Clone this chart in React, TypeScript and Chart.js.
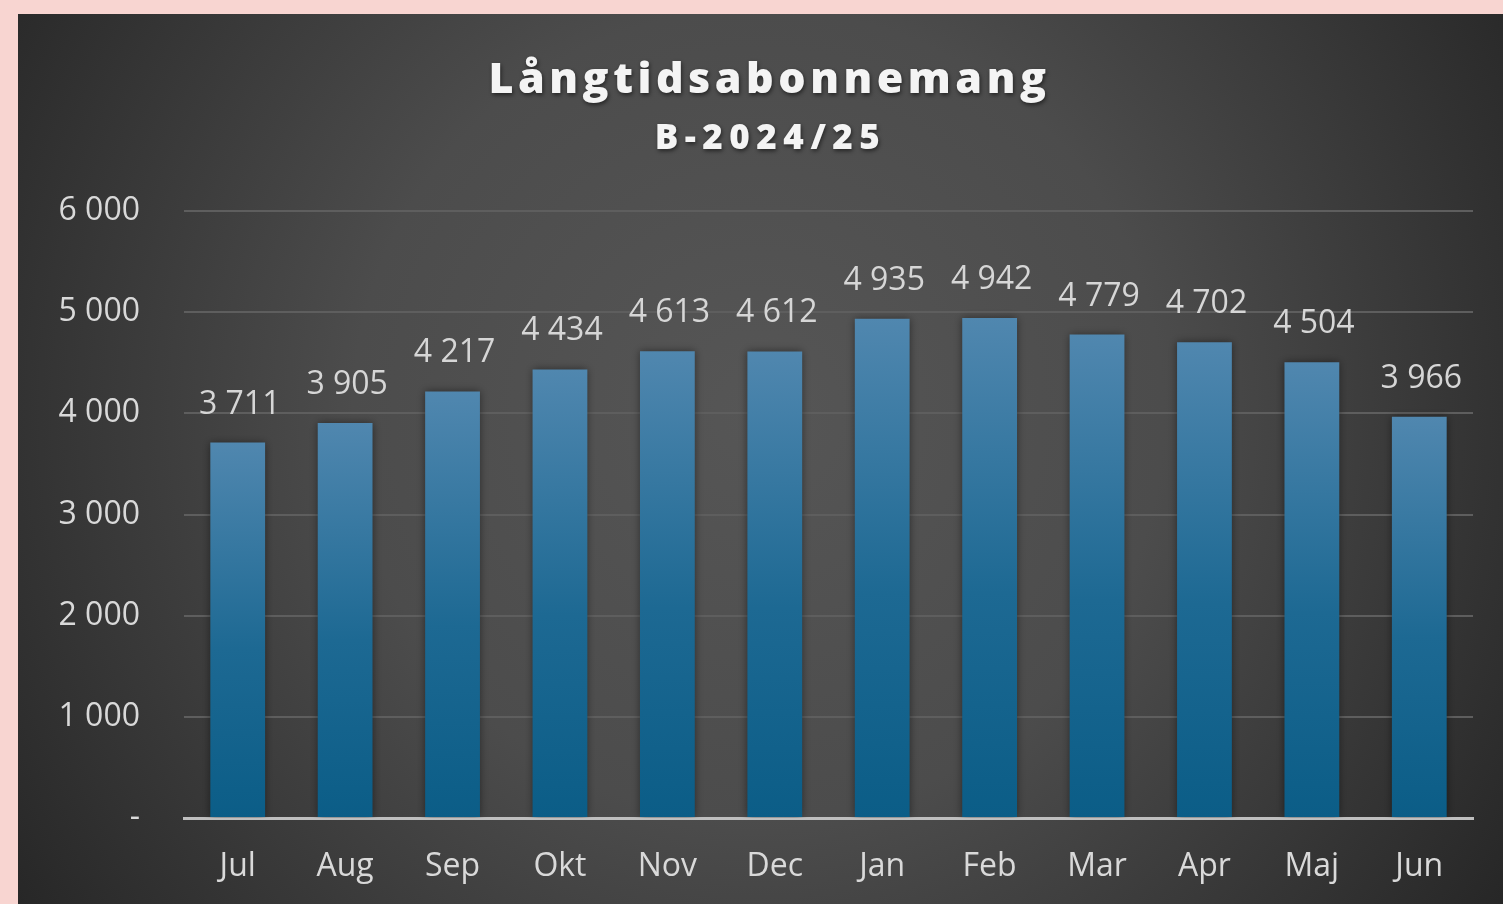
import React, { useEffect, useRef } from "react";
import { Chart, registerables } from "chart.js";

Chart.register(...registerables);

const TITLE = "Långtidsabonnemang";
const SUBTITLE = "B-2024/25";
const months = ["Jul", "Aug", "Sep", "Okt", "Nov", "Dec", "Jan", "Feb", "Mar", "Apr", "Maj", "Jun"];
const subscriptions = [3711, 3905, 4217, 4434, 4613, 4612, 4935, 4942, 4779, 4702, 4504, 3966];
const yMin = 0;
const yMax = 6000;
const yStep = 1000;

const FONT = "'Open Sans', 'Noto Sans', sans-serif";

const fmt = (v: number) =>
  v === 0 ? "-" : String(Math.round(v)).replace(/\B(?=(\d{3})+(?!\d))/g, " ");

const CW = 1485;
const CH = 890;

const bgPlugin = {
  id: "panelBg",
  beforeDraw(chart: any) {
    const { ctx, width, height } = chart;
    ctx.save();
    const g = ctx.createRadialGradient(740, 400, 0, 740, 400, 900);
    g.addColorStop(0, "#565656");
    g.addColorStop(0.45, "#4c4c4c");
    g.addColorStop(1, "#262626");
    ctx.fillStyle = g;
    ctx.fillRect(0, 0, width, height);

    ctx.fillStyle = "#f4f4f4";
    ctx.textAlign = "center";
    ctx.textBaseline = "alphabetic";
    ctx.shadowColor = "rgba(0,0,0,0.55)";
    ctx.shadowBlur = 4;
    ctx.shadowOffsetX = 1;
    ctx.shadowOffsetY = 2;
    const cx = width / 2 + 7;
    ctx.font = `800 43px ${FONT}`;
    (ctx as any).letterSpacing = "4.5px";
    ctx.fillText(TITLE, cx + 2, 79);
    ctx.font = `800 35px ${FONT}`;
    (ctx as any).letterSpacing = "6.5px";
    ctx.fillText(SUBTITLE, cx + 3, 135);
    (ctx as any).letterSpacing = "0px";
    ctx.restore();
  },
};

const shadowPlugin = {
  id: "barShadow",
  beforeDatasetsDraw(chart: any) {
    const ctx = chart.ctx;
    ctx.save();
    ctx.shadowColor = "rgba(0,0,0,0.45)";
    ctx.shadowBlur = 8;
    ctx.shadowOffsetX = 0;
    ctx.shadowOffsetY = 0;
  },
  afterDatasetsDraw(chart: any) {
    chart.ctx.restore();
  },
};

const labelPlugin = {
  id: "valueLabels",
  afterDatasetsDraw(chart: any) {
    const ctx = chart.ctx;
    const meta = chart.getDatasetMeta(0);
    const data = chart.data.datasets[0].data as number[];
    ctx.save();
    ctx.font = `500 32px ${FONT}`;
    ctx.fillStyle = "#d6d6d6";
    ctx.textAlign = "center";
    ctx.textBaseline = "alphabetic";
    meta.data.forEach((bar: any, i: number) => {
      ctx.fillText(fmt(data[i]), bar.x + 2, bar.y - 29);
    });
    ctx.restore();
  },
};

export default function App() {
  const ref = useRef<HTMLCanvasElement | null>(null);

  useEffect(() => {
    if (!ref.current) return;
    const chart = new Chart(ref.current, {
      type: "bar",
      data: {
        labels: months,
        datasets: [
          {
            data: subscriptions,
            categoryPercentage: 1,
            barPercentage: 0.51,
            borderWidth: 0,
            backgroundColor: (c: any) => {
              const ch = c.chart;
              const y = ch.scales?.y;
              if (!y || c.raw == null) return "#2f6f98";
              const top = y.getPixelForValue(c.raw);
              const bottom = y.getPixelForValue(0);
              if (!isFinite(top) || !isFinite(bottom) || top === bottom) return "#2f6f98";
              const g = ch.ctx.createLinearGradient(0, top, 0, bottom);
              g.addColorStop(0, "#5087af");
              g.addColorStop(0.55, "#1d6993");
              g.addColorStop(1, "#0b5d87");
              return g;
            },
          },
        ],
      },
      options: {
        responsive: false,
        animation: false,
        devicePixelRatio: 1,
        layout: { padding: { left: 0, right: 30, top: 197, bottom: 0 } },
        plugins: {
          legend: { display: false },
          title: { display: false },
          tooltip: { enabled: false },
        },
        scales: {
          x: {
            grid: { display: false, drawTicks: false },
            border: { display: true, color: "#bfbfbf", width: 3 },
            ticks: {
              color: "#d9d9d9",
              font: { family: FONT, size: 32, weight: "500" },
              padding: 30,
              maxRotation: 0,
              autoSkip: false,
            },
            afterFit: (s: any) => {
              s.height = 86;
            },
          },
          y: {
            min: yMin,
            max: yMax,
            border: { display: false },
            grid: {
              drawTicks: false,
              lineWidth: 2,
              color: (c: any) => (c.tick && c.tick.value === 0 ? "rgba(0,0,0,0)" : "#5e5e5e"),
            },
            ticks: {
              stepSize: yStep,
              color: "#d9d9d9",
              font: { family: FONT, size: 32, weight: "500" },
              padding: 44,
              callback: (v: any) => fmt(Number(v)),
            },
            afterFit: (s: any) => {
              s.width = 166;
            },
          },
        },
      },
      plugins: [bgPlugin, shadowPlugin, labelPlugin],
    });
    return () => chart.destroy();
  }, []);

  return (
    <div style={{ position: "fixed", inset: 0, background: "#f8d5d1" }}>
      <div style={{ position: "absolute", left: 18, top: 14, width: CW, height: CH }}>
        <canvas ref={ref} width={CW} height={CH} style={{ width: CW, height: CH, display: "block" }} />
      </div>
    </div>
  );
}
